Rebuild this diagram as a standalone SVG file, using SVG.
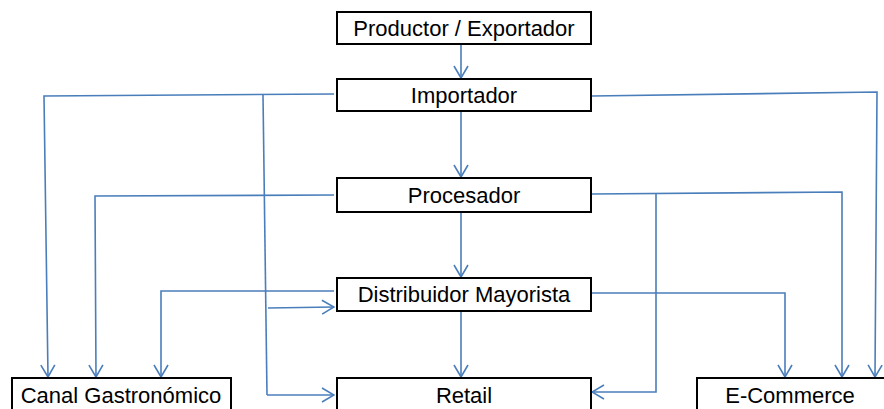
<svg xmlns="http://www.w3.org/2000/svg" width="884" height="409" viewBox="0 0 884 409">
  <style>
    .box { fill: #ffffff; stroke: #000000; stroke-width: 2; }
    .lbl { font-family: "Liberation Sans", Arial, sans-serif; font-size: 22px; fill: #000000; text-anchor: middle; }
    .wire { fill: none; stroke: #4a7ebb; stroke-width: 1.6; }
    .arr { marker-end: url(#open); }
  </style>
  <defs>
    <marker id="open" viewBox="0 0 14 16" refX="13" refY="8" markerWidth="14" markerHeight="16" markerUnits="userSpaceOnUse" orient="auto">
      <path d="M1,1 L13,8 L1,15" fill="none" stroke="#4a7ebb" stroke-width="1.6"/>
    </marker>
  </defs>

  <g id="connectors">
    <!-- main vertical chain -->
    <path class="wire arr" d="M461,44 L461,78"/>
    <path class="wire arr" d="M461,111 L461,177"/>
    <path class="wire arr" d="M461,212 L461,277"/>
    <path class="wire arr" d="M461,311 L461,377"/>

    <!-- Importador: left side -->
    <path class="wire arr" d="M334,94 L44,96 L48,377"/>
    <path class="wire" d="M263,95 L267,395"/>
    <path class="wire arr" d="M267,395 L334,395"/>
    <path class="wire arr" d="M268,308 L334,307"/>
    <!-- Importador: right side -->
    <path class="wire arr" d="M592,96 L877,92 L875,377"/>

    <!-- Procesador: left side -->
    <path class="wire arr" d="M334,195 L95,196 L96,377"/>
    <!-- Procesador: right side -->
    <path class="wire arr" d="M592,194 L842,192 L842,377"/>
    <path class="wire arr" d="M656,193 L656,392 L592,392"/>

    <!-- Distribuidor Mayorista: sides -->
    <path class="wire arr" d="M334,291 L161,291 L161,377"/>
    <path class="wire arr" d="M592,293 L785,293 L785,377"/>
  </g>

  <g id="productor">
    <rect class="box" x="337" y="12" width="254" height="32"/>
    <text class="lbl" x="464" y="36">Productor / Exportador</text>
  </g>
  <g id="importador">
    <rect class="box" x="337" y="79" width="254" height="32"/>
    <text class="lbl" x="464" y="103">Importador</text>
  </g>
  <g id="procesador">
    <rect class="box" x="337" y="178" width="254" height="34"/>
    <text class="lbl" x="464" y="203">Procesador</text>
  </g>
  <g id="distribuidor">
    <rect class="box" x="337" y="278" width="254" height="33"/>
    <text class="lbl" x="464" y="302">Distribuidor Mayorista</text>
  </g>
  <g id="canal">
    <rect class="box" x="12" y="378" width="219" height="40"/>
    <text class="lbl" x="121" y="403">Canal Gastronómico</text>
  </g>
  <g id="retail">
    <rect class="box" x="337" y="378" width="254" height="40"/>
    <text class="lbl" x="464" y="403">Retail</text>
  </g>
  <g id="ecommerce">
    <rect class="box" x="697" y="378" width="200" height="40"/>
    <text class="lbl" x="790" y="403">E-Commerce</text>
  </g>
</svg>
